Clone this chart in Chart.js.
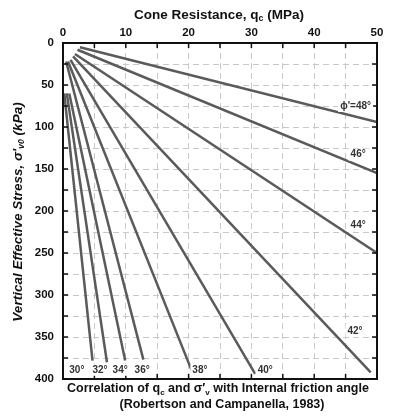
<!DOCTYPE html>
<html>
<head>
<meta charset="utf-8">
<script src="https://cdn.jsdelivr.net/npm/chart.js@4"></script>
<style>
  html, body { margin: 0; padding: 0; background: #fff; }
  #wrap { width: 394px; height: 418px; }
</style>
</head>
<body>
<div id="wrap"><canvas id="c" width="394" height="418"></canvas></div>
<script>
// ── Data ───────────────────────────────────────────────────────────────────
const angles  = [30, 32, 34, 36, 38, 40, 42, 44, 46, 48];
const startQc = [0.2, 0.6, 1.0, 0.5, 0.8, 1.2, 1.6, 1.9, 2.3, 2.7];
const startSv = [60, 60, 60, 22, 22, 20, 16, 13, 8, 5];
const endQc   = [4.7, 7.0, 9.9, 12.8, 20.5, 30.6, 49.0, 50, 50, 50];
const endSv   = [378, 380, 378, 377, 390, 394, 392, 250, 155, 94];

const labelText = ['30°', '32°', '34°', '36°', '38°', '40°', '42°', '44°', '46°', "ϕ'=48°"];
const labelQc   = [2.2, 5.9, 9.1, 12.6, 21.8, 32.2, 46.5, 47.0, 47.0, 46.6];
const labelSv   = [389, 389, 389, 389, 390, 389, 343, 217, 133, 75];

const xTicks = [0, 10, 20, 30, 40, 50];
const yTicks = [0, 50, 100, 150, 200, 250, 300, 350, 400];

const LINE = '#5a5a5a';
const SANS = '"Liberation Sans", Arial, sans-serif';

// ── Helpers ────────────────────────────────────────────────────────────────
// draw text runs [text, isSub] centred on (cx, cy)
function drawRuns(ctx, runs, cx, cy, size, style) {
  const font = s => `${style} ${s}px ${SANS}`;
  let w = 0;
  runs.forEach(([t, sub]) => { ctx.font = font(sub ? size * 0.65 : size); w += ctx.measureText(t).width; });
  let x = cx - w / 2;
  ctx.textBaseline = 'middle';
  ctx.textAlign = 'left';
  runs.forEach(([t, sub]) => {
    ctx.font = font(sub ? size * 0.65 : size);
    ctx.fillText(t, x, sub ? cy + size * 0.3 : cy);
    x += ctx.measureText(t).width;
  });
}

// ── Decorations plugin ─────────────────────────────────────────────────────
const decor = {
  id: 'decor',
  afterDatasetsDraw(chart) {
    const { ctx, chartArea: a, scales: { x, y } } = chart;
    ctx.save();

    // frame
    ctx.strokeStyle = '#111';
    ctx.lineWidth = 2;
    ctx.strokeRect(a.left, a.top, a.right - a.left, a.bottom - a.top);

    // inward tick marks
    ctx.lineWidth = 1.5;
    ctx.beginPath();
    for (let v = 5; v < 50; v += 5) {
      const px = x.getPixelForValue(v);
      ctx.moveTo(px, a.top); ctx.lineTo(px, a.top + 5);
      ctx.moveTo(px, a.bottom); ctx.lineTo(px, a.bottom - 5);
    }
    for (let v = 25; v < 400; v += 25) {
      const py = y.getPixelForValue(v);
      ctx.moveTo(a.left, py); ctx.lineTo(a.left + 5, py);
      ctx.moveTo(a.right, py); ctx.lineTo(a.right - 5, py);
    }
    ctx.stroke();

    // angle labels
    ctx.font = `bold 10px ${SANS}`;
    ctx.textAlign = 'center';
    ctx.textBaseline = 'middle';
    labelText.forEach((t, i) => {
      const px = x.getPixelForValue(labelQc[i]);
      const py = y.getPixelForValue(labelSv[i]);
      const w = ctx.measureText(t).width + 4;
      ctx.fillStyle = '#fff';
      ctx.fillRect(px - w / 2, py - 6, w, 12);
      ctx.fillStyle = '#333';
      ctx.fillText(t, px, py);
    });

    // titles
    ctx.fillStyle = '#111';
    drawRuns(ctx, [['Cone Resistance, q', false], ['c', true], [' (MPa)', false]], 219, 15, 13.5, 'bold');

    ctx.save();
    ctx.translate(18, 212);
    ctx.rotate(-Math.PI / 2);
    drawRuns(ctx, [["Vertical Effective Stress, σ'", false], ['v0', true], [' (kPa)', false]], 0, 0, 13.5, 'italic bold');
    ctx.restore();

    drawRuns(ctx, [['Correlation of q', false], ['c', true], [' and σ′', false], ['v', true],
      [' with Internal friction angle', false]], 218, 389, 12.5, 'bold');
    drawRuns(ctx, [['(Robertson and Campanella, 1983)', false]], 222, 405, 12.5, 'bold');

    ctx.restore();
  }
};

// ── Chart ──────────────────────────────────────────────────────────────────
const datasets = angles.map((a, i) => ({
  label: a + '°',
  data: [{ x: startQc[i], y: startSv[i] }, { x: endQc[i], y: endSv[i] }],
  borderColor: LINE,
  borderWidth: 2.5,
  pointRadius: 0,
  fill: false,
  tension: 0
}));

new Chart(document.getElementById('c'), {
  type: 'line',
  data: { datasets },
  options: {
    responsive: false,
    animation: false,
    layout: { padding: { left: 0, top: 0, right: 17, bottom: 39 } },
    plugins: { legend: { display: false }, tooltip: { enabled: false } },
    scales: {
      x: {
        type: 'linear',
        position: 'top',
        min: 0, max: 50,
        afterFit: s => { s.height = 43; },
        afterBuildTicks: s => { s.ticks = [...Array(11)].map((_, i) => ({ value: i * 5 })); },
        ticks: {
          padding: 3,
          color: '#111',
          font: { family: SANS, size: 11.5, weight: 'bold' },
          callback: v => xTicks.includes(v) ? v : ''
        },
        grid: { color: '#c8c8c8', lineWidth: 1, drawTicks: false },
        border: { display: false, dash: [6, 4] }
      },
      y: {
        type: 'linear',
        reverse: true,
        min: 0, max: 400,
        afterFit: s => { s.width = 63; },
        afterBuildTicks: s => { s.ticks = [...Array(17)].map((_, i) => ({ value: i * 25 })); },
        ticks: {
          padding: 9,
          color: '#111',
          font: { family: SANS, size: 11.5, weight: 'bold' },
          callback: v => yTicks.includes(v) ? v : ''
        },
        grid: { color: '#c8c8c8', lineWidth: 1, drawTicks: false },
        border: { display: false, dash: [6, 4] }
      }
    }
  },
  plugins: [decor]
});
</script>
</body>
</html>
